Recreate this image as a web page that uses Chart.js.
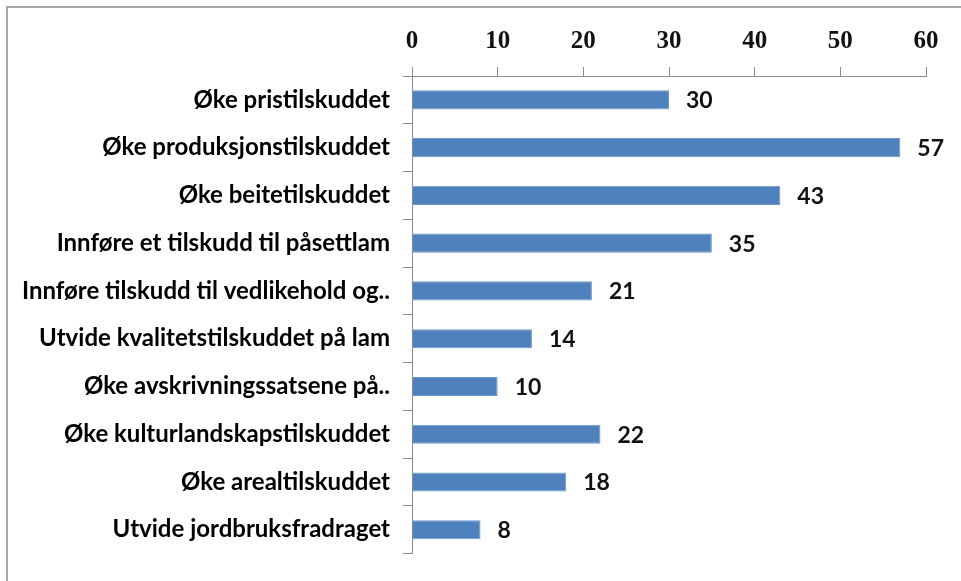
<!DOCTYPE html>
<html>
<head>
<meta charset="utf-8">
<script src="https://cdn.jsdelivr.net/npm/chart.js@4/dist/chart.umd.min.js"></script>
<style>
  html, body { margin: 0; padding: 0; background: #fff; }
  #wrap { position: relative; width: 961px; height: 581px; overflow: hidden; }
  #frame { position: absolute; left: 6px; top: 6px; width: 1000px; height: 700px;
           border-left: 2px solid #a6a6a6; border-top: 2px solid #a6a6a6; pointer-events: none; }
  canvas { position: absolute; left: 0; top: 0; }
</style>
</head>
<body>
<div id="wrap">
  <canvas id="c" width="961" height="581"></canvas>
  <div id="frame"></div>
</div>
<script>
const categories = [
  "Øke pristilskuddet",
  "Øke produksjonstilskuddet",
  "Øke beitetilskuddet",
  "Innføre et tilskudd til påsettlam",
  "Innføre tilskudd til vedlikehold og..",
  "Utvide kvalitetstilskuddet på lam",
  "Øke avskrivningssatsene på..",
  "Øke kulturlandskapstilskuddet",
  "Øke arealtilskuddet",
  "Utvide jordbruksfradraget"
];
const values = [30, 57, 43, 35, 21, 14, 10, 22, 18, 8];
const xTicks = [0, 10, 20, 30, 40, 50, 60];

const valueLabels = {
  id: 'valueLabels',
  afterDatasetsDraw(chart) {
    const ctx = chart.ctx;
    const meta = chart.getDatasetMeta(0);
    ctx.save();
    ctx.font = 'bold 23px Lato';
    ctx.fillStyle = '#111';
    ctx.textAlign = 'left';
    ctx.textBaseline = 'middle';
    meta.data.forEach((bar, i) => {
      ctx.fillText(String(values[i]), bar.x + 17, bar.y + 1);
    });
    ctx.restore();
  }
};

new Chart(document.getElementById('c'), {
  type: 'bar',
  data: {
    labels: categories,
    datasets: [{
      data: values,
      backgroundColor: '#4F81BD',
      borderColor: '#6d97c9',
      borderWidth: 1,
      barPercentage: 0.4,
      categoryPercentage: 1.0
    }]
  },
  options: {
    indexAxis: 'y',
    responsive: false,
    animation: false,
    layout: { padding: { left: 0, right: 35, top: 0, bottom: 26 } },
    plugins: { legend: { display: false }, tooltip: { enabled: false } },
    scales: {
      x: {
        position: 'top',
        min: 0, max: 60,
        afterBuildTicks(scale) { scale.ticks = xTicks.map(v => ({ value: v })); },
        afterFit(scale) { scale.height = 76; },
        ticks: {
          color: '#111',
          font: { family: 'Liberation Serif', size: 25, weight: 'bold' },
          padding: 10
        },
        grid: { drawOnChartArea: false, drawTicks: true, tickLength: 9, color: '#8c8c8c', lineWidth: 1 },
        border: { display: true, color: '#8c8c8c', width: 1 }
      },
      y: {
        afterFit(scale) { scale.width = 412; },
        ticks: {
          color: '#000',
          font: { family: 'Lato', size: 24, weight: 'bold' },
          padding: 13,
          autoSkip: false
        },
        grid: { offset: true, drawOnChartArea: false, drawTicks: true, tickLength: 9, color: '#8c8c8c', lineWidth: 1 },
        border: { display: true, color: '#8c8c8c', width: 1 }
      }
    }
  },
  plugins: [valueLabels]
});
</script>
</body>
</html>
